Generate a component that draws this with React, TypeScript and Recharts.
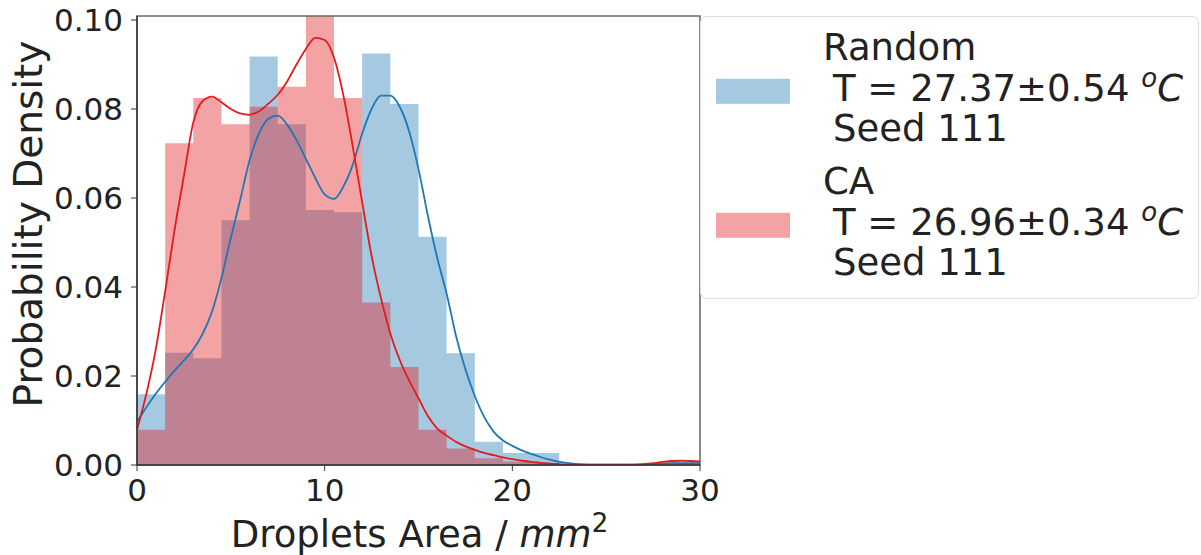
import {
  ComposedChart, XAxis, YAxis, Area, Line, ReferenceArea, Label,
} from 'recharts'

const FONT = '"DejaVu Sans", sans-serif'
const INK = '#222'

const BLUE = '#1f77b4'
const RED = '#e41a1c'

// histogram: 20 bins of width 1.5 between 0 and 30
const binEdges = [0, 1.5, 3, 4.5, 6, 7.5, 9, 10.5, 12, 13.5, 15, 16.5, 18, 19.5, 21, 22.5, 24, 25.5, 27, 28.5, 30]
const randomHist = [0.0159, 0.0252, 0.0240, 0.0550, 0.0918, 0.0766, 0.0573, 0.0568, 0.0925, 0.0811, 0.0513, 0.0251, 0.0052, 0.0027, 0.0027, 0, 0, 0, 0.0004, 0.0004]
const caHist = [0.0079, 0.0723, 0.0825, 0.0766, 0.0805, 0.0850, 0.1025, 0.0825, 0.0365, 0.0220, 0.0079, 0.0037, 0.0015, 0.0008, 0.0005, 0, 0, 0, 0, 0.0009]

const kdeX = [
  0, 0.5, 1, 1.5, 2, 2.5, 3, 3.5, 4, 4.5, 5, 5.5, 6, 6.5, 7, 7.5, 8, 8.5, 9, 9.5,
  10, 10.5, 11, 11.5, 12, 12.5, 13, 13.5, 14, 14.5, 15, 15.5, 16, 16.5, 17, 17.5, 18, 18.5, 19, 19.5,
  20, 20.5, 21, 21.5, 22, 22.5, 23, 23.5, 24, 24.5, 25, 25.5, 26, 26.5, 27, 27.5, 28, 28.5, 29, 29.5, 30,
]
const randomKde = [
  0.0097, 0.0130, 0.0160, 0.0187, 0.0212, 0.0235, 0.0260, 0.0295, 0.0345, 0.0420, 0.0510, 0.0596, 0.0685, 0.0745, 0.0778, 0.0785, 0.0765, 0.0730, 0.0688, 0.0645,
  0.0608, 0.0598, 0.0626, 0.0675, 0.0745, 0.0800, 0.0830, 0.0830, 0.0805, 0.0750, 0.0665, 0.0560, 0.0465, 0.0385, 0.0290, 0.0215, 0.0155, 0.0108, 0.0075, 0.0055,
  0.0043, 0.0033, 0.0025, 0.0018, 0.0012, 0.0007, 0.0004, 0.0002, 0.0001, 0.0001, 0.0001, 0.0001, 0.0001, 0.0001, 0.0001, 0.0002, 0.0003, 0.0004, 0.0004, 0.0004, 0.0004,
]
const caKde = [
  0.0079, 0.0160, 0.0260, 0.0390, 0.0528, 0.0650, 0.0770, 0.0818, 0.0828, 0.0815, 0.0800, 0.0790, 0.0787, 0.0795, 0.0812, 0.0832, 0.0862, 0.0900, 0.0935, 0.0960,
  0.0955, 0.0915, 0.0830, 0.0715, 0.0590, 0.0470, 0.0375, 0.0295, 0.0236, 0.0190, 0.0150, 0.0110, 0.0082, 0.0066, 0.0052, 0.0042, 0.0034, 0.0027, 0.0022, 0.0017,
  0.0013, 0.0010, 0.0007, 0.0005, 0.0003, 0.0002, 0.0001, 0.0001, 0.0001, 0.0001, 0.0001, 0.0001, 0.0001, 0.0001, 0.0002, 0.0004, 0.0007, 0.0009, 0.0010, 0.0009, 0.0008,
]

const xTicks = [0, 10, 20, 30]
const yTicks = [0, 0.02, 0.04, 0.06, 0.08, 0.1]
const Y_MAX = 0.1009

const seriesNames = ['Random', 'CA']
const seriesTemps = ['T = 27.37\u00b10.54 ', 'T = 26.96\u00b10.34 ']
const seriesSeeds = ['Seed 111', 'Seed 111']
const seriesColors = [BLUE, RED]

// one row per kde x; bin edges carry the step value of the bin they open
const rows = kdeX.map((x, i) => {
  const b = binEdges.indexOf(x)
  const k = Math.min(b, randomHist.length - 1)
  return {
    x,
    randomKde: randomKde[i],
    caKde: caKde[i],
    randomHist: b >= 0 ? randomHist[k] : null,
    caHist: b >= 0 ? caHist[k] : null,
  }
})

function XTitle({ viewBox }: any) {
  const { x, y, width } = viewBox
  return (
    <text x={x + width / 2 + 1} y={y + 82} textAnchor="middle" fontFamily={FONT} fontSize={37} fill={INK}>
      Droplets Area / <tspan fontStyle="italic">mm</tspan>
      <tspan dy={-15} fontSize={26}>2</tspan>
    </text>
  )
}

function YTitle() {
  return (
    <text x={42} y={224} transform="rotate(-90 42 224)" textAnchor="middle" fontFamily={FONT} fontSize={39} fill={INK}>
      Probability Density
    </text>
  )
}

function LegendBox() {
  const base = [43.3, 177.3]
  return (
    <div style={{
      position: 'absolute', left: 700, top: 16, width: 497, height: 281,
      border: '1.5px solid #dedede', borderRadius: 7, background: '#fff',
    }}>
      <svg width={497} height={281} style={{ display: 'block' }}>
        {seriesNames.map((name, i) => (
          <g key={name}>
            <rect x={15} y={base[i] + 18.5} width={74} height={25} fill={seriesColors[i]} fillOpacity={0.4} />
            <text x={122} y={base[i]} fontFamily={FONT} fontSize={37} fill={INK}>{name}</text>
            <text x={132} y={base[i] + 40.5} fontFamily={FONT} fontSize={37} fill={INK}>
              {seriesTemps[i]}
              <tspan fontStyle="italic" fontSize={26} dy={-14}>o</tspan>
              <tspan fontStyle="italic" dy={14}>C</tspan>
            </text>
            <text x={132} y={base[i] + 81} fontFamily={FONT} fontSize={37} fill={INK}>{seriesSeeds[i]}</text>
          </g>
        ))}
      </svg>
    </div>
  )
}

export default function App() {
  const tickStyle = { fontSize: 31, fill: INK, fontFamily: FONT }
  return (
    <div style={{ position: 'absolute', left: 0, top: 0, width: 1201, height: 555, background: '#fff' }}>
      <ComposedChart width={1201} height={555} data={rows} margin={{ top: 16, right: 501, bottom: 0, left: 0 }}>
        <XAxis
          dataKey="x" type="number" domain={[0, 30]} ticks={xTicks}
          tick={tickStyle} tickSize={6} tickMargin={8} height={90}
          axisLine={{ stroke: '#333', strokeWidth: 1.5 }} tickLine={{ stroke: '#333' }}
        >
          <Label content={XTitle} />
        </XAxis>
        <YAxis
          type="number" domain={[0, Y_MAX]} ticks={yTicks} allowDataOverflow
          tickFormatter={v => v.toFixed(2)} tick={tickStyle} tickSize={6} tickMargin={8} width={137}
          axisLine={{ stroke: '#333', strokeWidth: 1.5 }} tickLine={{ stroke: '#333' }}
        >
          <Label content={YTitle} />
        </YAxis>
        <Area
          type="stepAfter" dataKey="randomHist" connectNulls stroke="none"
          fill={BLUE} fillOpacity={0.4} isAnimationActive={false}
        />
        <Line
          type="monotone" dataKey="randomKde" stroke={BLUE} strokeWidth={1.8}
          dot={false} isAnimationActive={false}
        />
        <Area
          type="stepAfter" dataKey="caHist" connectNulls stroke="none"
          fill={RED} fillOpacity={0.4} isAnimationActive={false}
        />
        <Line
          type="monotone" dataKey="caKde" stroke={RED} strokeWidth={1.8}
          dot={false} isAnimationActive={false}
        />
        <ReferenceArea x1={0} x2={30} y1={0} y2={Y_MAX} fill="none" stroke="#666" strokeWidth={1.5} />
      </ComposedChart>
      <LegendBox />
    </div>
  )
}
